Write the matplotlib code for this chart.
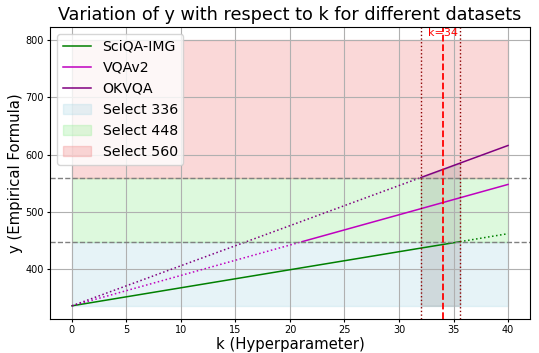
import matplotlib
matplotlib.use('Agg')
import matplotlib.pyplot as plt
import numpy as np

# 数据 (k, y) 读自原图
k_pts = [0, 21.1, 32, 35.6, 40]
sciqa_y = [336, 402.5, 436.8, 448, 462]
vqav2_y = [336, 448, 505.6, 524.7, 548]
okvqa_y = [336, 483.7, 560, 585.2, 616]

thresholds = [336, 448, 560, 800]
region_labels = ['Select 336', 'Select 448', 'Select 560']
region_colors = ['lightblue', 'lightgreen', 'lightcoral']
k_best = 34
k_low, k_high = 32, 35.6

fig, ax = plt.subplots(figsize=(5.39, 3.53), dpi=100)

k = np.array(k_pts)
sci = np.array(sciqa_y)
vqa = np.array(vqav2_y)
ok = np.array(okvqa_y)

# SciQA-IMG: 448 以下为实线
ax.plot(k[:4], sci[:4], color='green', lw=1.1, label='SciQA-IMG')
ax.plot(k[3:], sci[3:], color='green', lw=1.1, ls=':')
# VQAv2: 448 以上为实线
ax.plot(k[1:], vqa[1:], color='m', lw=1.1, label='VQAv2')
ax.plot(k[:2], vqa[:2], color='m', lw=1.1, ls=':')
# OKVQA: 560 以上为实线
ax.plot(k[2:], ok[2:], color='purple', lw=1.1, label='OKVQA')
ax.plot(k[:3], ok[:3], color='purple', lw=1.1, ls=':')

for i in range(3):
    ax.fill_between([0, 40], thresholds[i], thresholds[i + 1],
                    color=region_colors[i], alpha=0.3, label=region_labels[i])

ax.axhline(448, color='gray', ls='--', lw=1)
ax.axhline(560, color='gray', ls='--', lw=1)

# 最优区间
ax.fill_between(k[2:4], 336, ok[2:4], color='gray', alpha=0.22)
ax.axvline(k_low, color='darkred', ls=':', lw=1)
ax.axvline(k_high, color='darkred', ls=':', lw=1)
ax.axvline(k_best, color='red', ls='--', lw=1.3)
ax.text(k_best, 813, f'k={k_best}', color='red', fontsize=8, ha='center', va='center')

ax.set_title('Variation of y with respect to k for different datasets', fontsize=12.7, pad=5)
ax.set_xlabel('k (Hyperparameter)', fontsize=10.7, labelpad=1)
ax.set_ylabel('y (Empirical Formula)', fontsize=10.7, labelpad=2)
ax.tick_params(labelsize=7, length=2.5, pad=2)
ax.set_xticks([0, 5, 10, 15, 20, 25, 30, 35, 40])
ax.set_yticks([400, 500, 600, 700, 800])
ax.grid(True)
ax.legend(loc='upper left', fontsize=10.2)

plt.subplots_adjust(left=0.093, right=0.983, top=0.924, bottom=0.096)
plt.savefig('out.png', dpi=100)
